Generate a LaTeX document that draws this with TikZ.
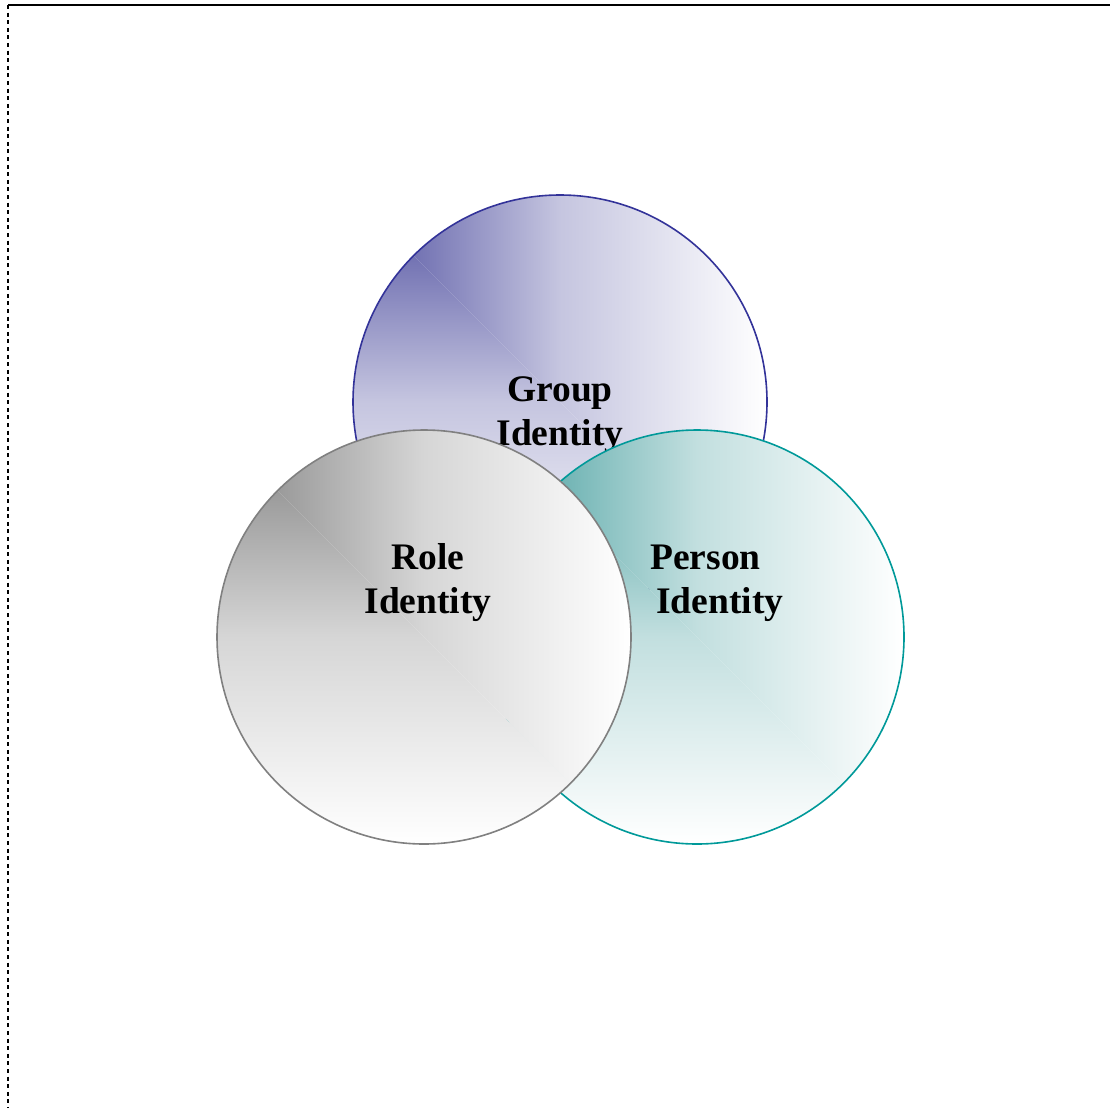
\documentclass[tikz,border=0pt]{standalone}
\usepackage{fontspec}
\setmainfont{Liberation Serif}
\usepackage{tikz}
\usetikzlibrary{positioning}

\definecolor{groupblue}{RGB}{80,80,160}
\definecolor{groupline}{RGB}{51,51,153}
\definecolor{roleblack}{RGB}{130,130,130}
\definecolor{roleline}{RGB}{128,128,128}
\definecolor{personteal}{RGB}{70,158,158}
\definecolor{personline}{RGB}{0,153,153}

\tikzset{
    venn/.style 2 args={circle, draw=#2, line width=1.6pt, minimum size=414pt, inner sep=0pt,
        path picture={
            \shade[left color=#1, right color=white, middle color=#1!33!white]
                (path picture bounding box.north west) -- (path picture bounding box.north east)
                -- (path picture bounding box.south east) -- cycle;
            \shade[top color=#1, bottom color=white, middle color=#1!33!white]
                (path picture bounding box.north west) -- (path picture bounding box.south west)
                -- (path picture bounding box.south east) -- cycle;
        }},
    vennlabel/.style={font=\bfseries\fontsize{37.5}{44}\selectfont, align=#1, inner sep=0pt, anchor=base},
    vennlabel/.default=center
}

\begin{document}
\begin{tikzpicture}[x=1pt, y=-1pt]
    \useasboundingbox (0,0) rectangle (1110,1108);
    \draw[line width=2pt] (8,5) -- (1110,5);
    \draw[line width=1.5pt, dash pattern=on 4pt off 3.6pt] (8,5) -- (8,1108);

    % group circle first, its text gets covered by the others
    \node[venn={groupblue}{groupline}] (group) at (560,402) {};
    \node[vennlabel] (grouptext) at (560,445) {Group\\Identity};

    \node[venn={personteal}{personline}] (person) at (697,637) {};
    \node[vennlabel=left, anchor=base west] (persontext) at (650,613) {Person\\\hspace{6pt}Identity};

    \node[venn={roleblack}{roleline}] (role) at (424,637) {};
    \node[vennlabel] (roletext) at (428,613) {Role\\Identity};
\end{tikzpicture}
\end{document}
